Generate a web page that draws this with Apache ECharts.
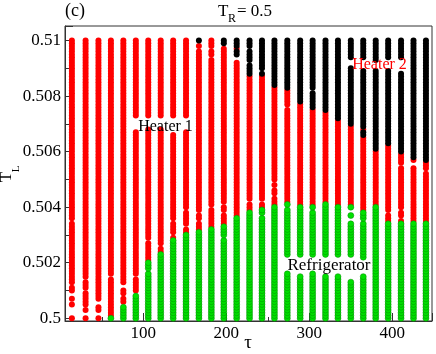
<!DOCTYPE html>
<html>
<head>
<meta charset="utf-8">
<script src="https://cdn.jsdelivr.net/npm/echarts@6/dist/echarts.min.js"></script>
<style>
  html, body { margin: 0; padding: 0; background: #fff; }
  #main { width: 436px; height: 354px; }
</style>
</head>
<body>
<div id="main"></div>
<script>
// tau of each column of points
var tauValues = [14, 30.5, 46, 61, 76, 91, 106, 121, 136, 151.5, 167, 182, 197, 212.5, 228,
    243, 258, 273.5, 289, 304, 319.5, 334.5, 350, 365, 380, 395, 410.5, 425.5, 440.5];

// T_L grid of every column
var tlLevels = [
    0.5000, 0.5001, 0.5002, 0.5003, 0.5004, 0.5005, 0.5006, 0.5007, 0.5008, 0.5009,
    0.5010, 0.5011, 0.5012, 0.5013, 0.5014, 0.5015, 0.5016, 0.5017, 0.5018, 0.5019,
    0.5020, 0.5021, 0.5022, 0.5023, 0.5024, 0.5025, 0.5026, 0.5027, 0.5028, 0.5029,
    0.5030, 0.5031, 0.5032, 0.5033, 0.5034, 0.5035, 0.5036, 0.5037, 0.5038, 0.5039,
    0.5040, 0.5041, 0.5042, 0.5043, 0.5044, 0.5045, 0.5046, 0.5047, 0.5048, 0.5049,
    0.5050, 0.5051, 0.5052, 0.5053, 0.5054, 0.5055, 0.5056, 0.5057, 0.5058, 0.5059,
    0.5060, 0.5061, 0.5062, 0.5063, 0.5064, 0.5065, 0.5066, 0.5067, 0.5068, 0.5069,
    0.5070, 0.5071, 0.5072, 0.5073, 0.5074, 0.5075, 0.5076, 0.5077, 0.5078, 0.5079,
    0.5080, 0.5081, 0.5082, 0.5083, 0.5084, 0.5085, 0.5086, 0.5087, 0.5088, 0.5089,
    0.5090, 0.5091, 0.5092, 0.5093, 0.5094, 0.5095, 0.5096, 0.5097, 0.5098, 0.5099,
    0.5100
];

// highest T_L that is a refrigerator (null = none)
var greenTop = [null, null, null, 0.5000, 0.5004, 0.5008, 0.5020, 0.5023, 0.5028, 0.5030,
    0.5031, 0.5032, 0.5033, 0.5036, 0.5038, 0.5039, 0.5040, 0.5041, 0.5040, 0.5040,
    0.5041, 0.5040, 0.5040, 0.5038, 0.5040, 0.5034, 0.5034, 0.5034, 0.5034];

// lowest T_L that is heater 2 (null = none)
var blackBottom = [null, null, null, null, null, null, null, null, null, null,
    0.5100, null, 0.5099, 0.5095, 0.5088, 0.5088, 0.5084, 0.5083, 0.5078, 0.5076,
    0.5075, 0.5072, 0.5070, 0.5066, 0.5061, 0.5063, 0.5060, 0.5058, 0.5057];

// heater 1 points inside the heater 2 part
var redInBlack = [[], [], [], [], [], [], [], [], [], [], [], [], [], [0.5097], [],
    [], [], [], [], [], [], [], [], [0.5068], [], [], [], [], []];

// T_L ranges without a point
var gapRanges = [
    [[0.5001, 0.5004], [0.5006, 0.5006], [0.5008, 0.5009], [0.5012, 0.5012], [0.5035, 0.5035]],
    [[0.5001, 0.5002], [0.5004, 0.5004], [0.5010, 0.5010], [0.5014, 0.5014]],
    [[0.5001, 0.5002], [0.5005, 0.5006]],
    [[0.5015, 0.5015]],
    [[0.5005, 0.5005], [0.5008, 0.5008], [0.5011, 0.5012]],
    [[0.5009, 0.5009], [0.5015, 0.5015], [0.5068, 0.5072]],
    [[0.5017, 0.5017], [0.5028, 0.5028], [0.5069, 0.5072]],
    [[0.5026, 0.5026], [0.5069, 0.5072]],
    [[0.5030, 0.5030], [0.5035, 0.5035], [0.5067, 0.5072]],
    [[0.5033, 0.5033], [0.5039, 0.5039], [0.5068, 0.5072]],
    [[0.5099, 0.5099], [0.5097, 0.5097], [0.5038, 0.5038], [0.5035, 0.5035]],
    [[0.5097, 0.5097], [0.5094, 0.5094], [0.5040, 0.5040]],
    [[0.5098, 0.5098], [0.5041, 0.5041], [0.5038, 0.5038], [0.5029, 0.5029]],
    [[0.5093, 0.5094]],
    [[0.5097, 0.5097], [0.5092, 0.5092], [0.5042, 0.5042]],
    [[0.5089, 0.5089], [0.5042, 0.5042], [0.5037, 0.5037]],
    [[0.5044, 0.5044], [0.5047, 0.5047], [0.5049, 0.5049]],
    [[0.5076, 0.5076], [0.5040, 0.5040], [0.5017, 0.5022]],
    [[0.5016, 0.5022]],
    [[0.5082, 0.5082], [0.5039, 0.5039], [0.5017, 0.5022]],
    [[0.5016, 0.5022]],
    [[0.5016, 0.5022]],
    [[0.5091, 0.5093], [0.5038, 0.5039], [0.5035, 0.5036], [0.5014, 0.5022]],
    [[0.5090, 0.5093], [0.5035, 0.5035], [0.5016, 0.5021]],
    [[0.5090, 0.5092]],
    [[0.5090, 0.5093], [0.5038, 0.5038]],
    [[0.5089, 0.5093], [0.5055, 0.5055], [0.5039, 0.5039], [0.5036, 0.5036]],
    [[0.5055, 0.5056]],
    [[0.5053, 0.5053]]
];

var eps = 1e-7;
var heater1 = [], heater2 = [], fridge = [];
for (var i = 0; i < tauValues.length; i++) {
    for (var j = 0; j < tlLevels.length; j++) {
        var t = tlLevels[j];
        var skip = gapRanges[i].some(function (g) { return t >= g[0] - eps && t <= g[1] + eps; });
        if (skip) continue;
        var p = [tauValues[i], t];
        if (greenTop[i] !== null && t <= greenTop[i] + eps) {
            fridge.push(p);
        } else if (blackBottom[i] !== null && t >= blackBottom[i] - eps &&
            !redInBlack[i].some(function (r) { return Math.abs(r - t) < eps; })) {
            heater2.push(p);
        } else {
            heater1.push(p);
        }
    }
}

var serif = "'Liberation Serif', 'Times New Roman', Times, 'DejaVu Serif', serif";
var myChart = echarts.init(document.getElementById('main'));

function txt(x, y, s, size, extra) {
    var style = { text: s, fontFamily: serif, fontSize: size, fill: '#000' };
    for (var k in extra) style[k] = extra[k];
    return { type: 'text', x: x, y: y, z: 10, style: style };
}

var option = {
    animation: false,
    grid: {
        left: 65, right: 4, top: 26, bottom: 33,
        show: true, borderColor: '#333', borderWidth: 1
    },
    xAxis: {
        type: 'value',
        min: 5.7,
        max: 447.8,
        splitNumber: 5,
        axisLine: { onZero: false, lineStyle: { color: '#333' } },
        axisTick: { inside: true, length: 8, lineStyle: { color: '#333' } },
        minorTick: { show: true, splitNumber: 2, length: 4, lineStyle: { color: '#333' } },
        splitLine: { show: false },
        axisLabel: {
            color: '#000', fontFamily: serif, fontSize: 17, margin: 4,
            showMinLabel: false, showMaxLabel: false
        }
    },
    yAxis: {
        type: 'value',
        min: 0.499903,
        max: 0.510522,
        splitNumber: 5,
        axisLine: { lineStyle: { color: '#333' } },
        axisTick: { inside: true, length: 8, lineStyle: { color: '#333' } },
        minorTick: { show: true, splitNumber: 2, length: 4, lineStyle: { color: '#333' } },
        splitLine: { show: false },
        axisLabel: {
            color: '#000', fontFamily: serif, fontSize: 17, margin: 4,
            showMinLabel: false, showMaxLabel: false, hideOverlap: false
        }
    },
    series: [
        {
            name: 'Heater 1', type: 'scatter', data: heater1,
            symbol: 'circle', symbolSize: 6, large: false,
            itemStyle: { color: '#ff0000', opacity: 1 }
        },
        {
            name: 'Heater 2', type: 'scatter', data: heater2,
            symbol: 'circle', symbolSize: 6, large: false,
            itemStyle: { color: '#000000', opacity: 1 }
        },
        {
            name: 'Refrigerator', type: 'scatter', data: fridge,
            symbol: 'circle', symbolSize: 6, large: false,
            itemStyle: { color: '#00e000', borderColor: '#008a00', borderWidth: 0.5, opacity: 1 }
        }
    ],
    graphic: [
        txt(65, 2, '(c)', 18),
        // title T_R = 0.5
        txt(218, 3, 'T', 17),
        txt(228, 13, 'R', 12),
        txt(237, 3, '= 0.5', 17),
        // axis names
        txt(248, 343, 'τ', 19, { align: 'center', verticalAlign: 'middle' }),
        (function () { var e = txt(7, 177, 'T', 17, { align: 'center', verticalAlign: 'middle' }); e.rotation = Math.PI / 2; return e; })(),
        (function () { var e = txt(16, 169, 'L', 11, { align: 'center', verticalAlign: 'middle' }); e.rotation = Math.PI / 2; return e; })(),
        // region labels
        txt(165.5, 127, 'Heater 1', 16, { align: 'center', verticalAlign: 'middle' }),
        txt(379.5, 65, 'Heater 2', 16, { align: 'center', verticalAlign: 'middle', fill: '#ff0000' }),
        txt(329, 266, 'Refrigerator', 17, { align: 'center', verticalAlign: 'middle' })
    ]
};

if (option && typeof option === 'object') {
    myChart.setOption(option, true);
}
</script>
</body>
</html>
